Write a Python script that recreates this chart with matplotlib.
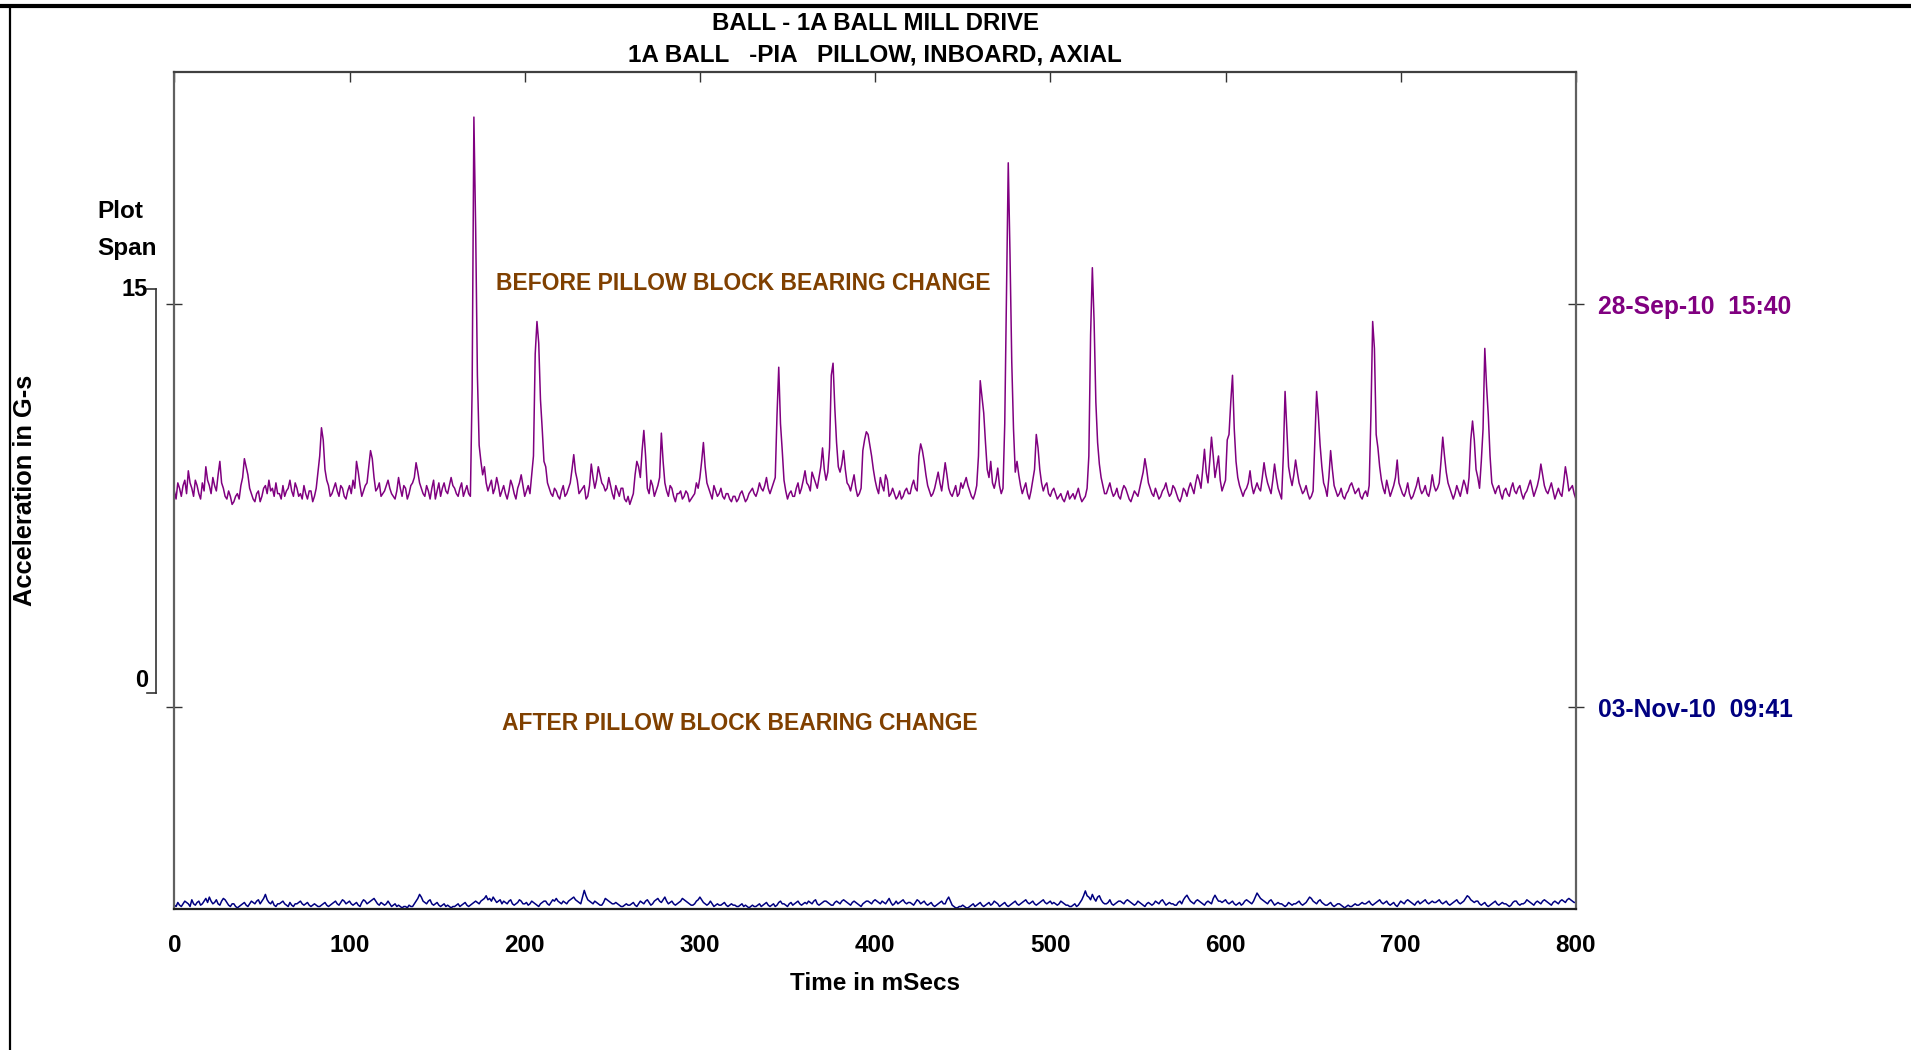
"""Time waveform, 1A ball mill pillow block (inboard, axial): before vs after bearing change."""
import numpy as np
import matplotlib.pyplot as plt
from matplotlib.lines import Line2D
from matplotlib.transforms import blended_transform_factory

plt.rcParams['font.family'] = ['Liberation Sans', 'DejaVu Sans']
plt.rcParams['font.weight'] = 'bold'

TITLE = 'BALL - 1A BALL MILL DRIVE'
SUBTITLE = '1A BALL   -PIA   PILLOW, INBOARD, AXIAL'
DATES = ['03-Nov-10  09:41', '28-Sep-10  15:40']
NOTES = ['AFTER PILLOW BLOCK BEARING CHANGE', 'BEFORE PILLOW BLOCK BEARING CHANGE']
X_TICKS = [0, 100, 200, 300, 400, 500, 600, 700, 800]
SPAN = 15  # G, plot span / waterfall spacing

# sample times, 1 ms apart
t_ms = np.arange(0, 801)

# 28-Sep-10 15:40 (before change), G
before = [
    0.7, 0.4, 1.0, 0.8, 0.5, 0.9, 1.1, 0.6, 1.45, 1.0, 0.8, 0.5, 1.1, 0.9, 0.6, 0.4, 1.0, 0.7, 1.6, 1.1,
    0.9, 0.6, 1.2, 0.9, 0.7, 1.3, 1.8, 1.0, 0.8, 0.5, 0.4, 0.7, 0.5, 0.2, 0.3, 0.5, 0.6, 0.4, 0.9, 1.2,
    1.9, 1.6, 1.3, 0.8, 0.6, 0.4, 0.3, 0.6, 0.7, 0.3, 0.5, 0.8, 0.9, 0.6, 1.1, 0.7, 0.8, 0.5, 1.0, 0.6,
    0.6, 0.4, 0.9, 0.5, 0.7, 0.8, 1.1, 0.7, 0.5, 1.0, 0.8, 0.5, 0.6, 0.4, 0.9, 0.6, 0.4, 0.7, 0.7, 0.3,
    0.5, 0.8, 1.4, 2.0, 3.05, 2.6, 1.5, 1.1, 0.9, 0.5, 0.6, 0.8, 1.0, 0.7, 0.5, 0.9, 0.8, 0.5, 0.4, 0.7,
    0.9, 0.6, 1.1, 0.8, 1.8, 1.4, 0.9, 0.5, 0.7, 0.9, 1.0, 1.6, 2.2, 1.9, 1.2, 0.7, 0.8, 1.0, 0.5, 0.6,
    0.7, 0.9, 1.1, 0.8, 0.6, 0.5, 0.4, 0.7, 1.2, 0.8, 0.5, 0.9, 0.8, 0.4, 0.6, 0.9, 1.0, 1.2, 1.75, 1.4,
    1.0, 0.8, 0.6, 0.5, 0.9, 0.7, 0.4, 0.8, 1.1, 0.4, 0.7, 1.0, 0.5, 0.8, 1.0, 0.7, 0.6, 0.9, 1.2, 0.9,
    0.8, 0.6, 0.5, 0.8, 1.0, 0.5, 0.7, 0.9, 0.6, 0.5, 4.5, 14.6, 10.5, 5.0, 2.4, 1.8, 1.3, 1.6, 1.0, 0.7,
    0.9, 1.1, 0.6, 0.8, 1.2, 0.9, 0.5, 0.7, 0.9, 0.6, 0.4, 0.7, 1.1, 0.9, 0.6, 0.4, 0.8, 1.0, 1.3, 0.9,
    0.5, 0.7, 0.9, 0.6, 1.3, 2.0, 5.8, 7.0, 6.2, 4.1, 3.0, 1.8, 1.6, 1.0, 0.8, 0.6, 0.5, 0.8, 0.7, 0.5,
    0.4, 0.7, 0.9, 0.5, 0.6, 0.8, 1.0, 1.5, 2.05, 1.4, 1.1, 0.6, 0.7, 0.8, 0.9, 0.4, 0.5, 0.9, 1.7, 1.2,
    0.8, 1.1, 1.6, 1.3, 1.0, 0.9, 0.7, 0.8, 1.2, 0.9, 0.6, 0.4, 0.9, 0.7, 0.5, 0.8, 0.8, 0.4, 0.3, 0.5,
    0.2, 0.4, 0.6, 1.3, 1.8, 1.6, 1.2, 2.2, 2.95, 2.0, 0.8, 0.6, 1.1, 0.9, 0.5, 0.7, 0.9, 1.2, 2.85, 1.8,
    1.0, 0.7, 0.5, 0.9, 0.8, 0.5, 0.3, 0.6, 0.6, 0.7, 0.4, 0.5, 0.7, 0.6, 0.3, 0.4, 0.5, 0.6, 1.0, 0.8,
    1.2, 1.8, 2.5, 1.6, 1.0, 0.8, 0.6, 0.4, 0.9, 0.7, 0.5, 0.6, 0.8, 0.5, 0.4, 0.6, 0.6, 0.4, 0.3, 0.5,
    0.5, 0.3, 0.4, 0.6, 0.7, 0.5, 0.3, 0.4, 0.6, 0.7, 0.8, 0.6, 0.5, 0.7, 1.0, 0.8, 0.7, 0.9, 1.2, 0.8,
    0.6, 0.8, 1.0, 1.2, 3.5, 5.3, 3.2, 2.2, 1.1, 0.7, 0.4, 0.6, 0.7, 0.5, 0.5, 0.8, 1.0, 0.6, 0.8, 1.1,
    1.45, 1.0, 0.9, 0.7, 1.4, 1.2, 1.0, 0.8, 1.2, 1.6, 2.3, 1.5, 1.1, 1.4, 2.3, 5.0, 5.45, 3.8, 2.5, 1.6,
    1.4, 1.7, 2.2, 1.5, 1.0, 0.9, 0.7, 1.0, 1.3, 0.8, 0.5, 0.6, 0.8, 2.2, 2.6, 2.9, 2.8, 2.4, 2.0, 1.5,
    1.1, 0.8, 0.6, 1.2, 0.9, 0.7, 1.3, 1.1, 0.5, 0.6, 0.8, 0.6, 0.4, 0.5, 0.7, 0.4, 0.5, 0.7, 0.8, 0.6,
    0.6, 0.9, 1.1, 0.8, 0.7, 2.0, 2.45, 2.2, 1.8, 1.3, 0.9, 0.7, 0.5, 0.6, 0.8, 1.1, 1.4, 1.0, 0.7, 1.2,
    1.75, 1.3, 0.8, 0.6, 0.5, 0.7, 0.9, 0.5, 0.6, 1.0, 0.8, 1.0, 1.2, 0.9, 0.7, 0.5, 0.4, 0.6, 0.9, 2.0,
    4.8, 4.2, 3.6, 2.5, 1.5, 1.2, 1.8, 1.0, 0.8, 1.1, 1.55, 0.9, 0.6, 0.8, 3.2, 8.0, 12.9, 9.5, 5.5, 3.0,
    1.4, 1.8, 1.3, 0.9, 0.6, 0.8, 1.0, 0.6, 0.4, 0.7, 1.1, 1.5, 2.8, 2.3, 1.5, 1.0, 0.7, 0.9, 1.0, 0.6,
    0.5, 0.7, 0.8, 0.6, 0.4, 0.5, 0.6, 0.4, 0.3, 0.5, 0.7, 0.4, 0.5, 0.6, 0.4, 0.6, 0.8, 0.5, 0.3, 0.4,
    0.5, 0.8, 2.0, 6.5, 9.0, 7.0, 4.0, 2.5, 1.7, 1.2, 0.9, 0.6, 0.6, 0.8, 1.0, 0.7, 0.5, 0.6, 0.8, 0.5,
    0.4, 0.7, 0.9, 0.8, 0.6, 0.4, 0.3, 0.5, 0.7, 0.6, 0.5, 0.8, 1.1, 1.4, 1.9, 1.5, 1.0, 0.8, 0.6, 0.5,
    0.8, 0.6, 0.4, 0.5, 0.7, 0.8, 1.0, 0.7, 0.5, 0.6, 0.9, 0.8, 0.6, 0.4, 0.3, 0.5, 0.8, 0.7, 0.5, 0.8,
    1.0, 0.8, 0.6, 1.0, 1.3, 1.1, 0.8, 1.5, 2.25, 1.4, 1.0, 1.8, 2.7, 2.0, 1.2, 1.6, 2.0, 1.1, 0.7, 0.9,
    1.1, 2.6, 2.8, 4.0, 5.0, 3.0, 1.8, 1.2, 0.9, 0.7, 0.5, 0.7, 0.8, 1.0, 1.45, 0.9, 0.6, 0.8, 1.0, 0.8,
    0.7, 1.2, 1.75, 1.3, 1.0, 0.8, 0.6, 1.1, 1.7, 1.2, 0.8, 0.6, 0.4, 2.0, 4.4, 3.0, 1.6, 1.2, 0.9, 1.3,
    1.85, 1.4, 1.0, 0.8, 0.6, 0.7, 0.9, 0.6, 0.4, 0.5, 0.7, 2.5, 4.4, 3.5, 2.4, 1.6, 1.0, 0.8, 0.5, 1.2,
    2.2, 1.5, 0.9, 0.7, 0.5, 0.6, 0.8, 0.5, 0.4, 0.6, 0.7, 0.9, 1.0, 0.8, 0.6, 0.7, 0.8, 0.5, 0.4, 0.6,
    0.7, 0.5, 0.9, 3.5, 7.0, 6.0, 2.8, 2.3, 1.6, 1.1, 0.8, 0.6, 1.1, 0.8, 0.5, 0.7, 0.9, 1.2, 1.85, 1.0,
    0.8, 0.6, 0.5, 0.7, 1.0, 0.6, 0.4, 0.5, 0.7, 0.9, 1.2, 0.8, 0.6, 0.7, 0.9, 0.6, 0.5, 0.8, 1.3, 0.9,
    0.7, 0.8, 1.0, 1.8, 2.7, 2.0, 1.4, 1.0, 0.8, 0.6, 0.4, 0.6, 0.9, 0.7, 0.5, 0.8, 1.1, 0.9, 0.6, 1.2,
    2.6, 3.3, 2.6, 1.5, 1.2, 0.8, 1.8, 3.0, 6.0, 4.6, 3.5, 2.0, 1.0, 0.8, 0.6, 0.8, 0.9, 0.6, 0.4, 0.7,
    0.8, 0.6, 0.5, 0.8, 1.0, 0.7, 0.6, 0.8, 0.9, 0.6, 0.4, 0.6, 0.7, 0.9, 1.1, 0.8, 0.5, 0.7, 0.9, 1.2,
    1.7, 1.3, 0.9, 0.7, 0.6, 0.8, 1.0, 0.7, 0.4, 0.6, 0.8, 0.6, 0.5, 1.0, 1.6, 1.2, 0.7, 0.8, 0.9, 0.6,
    0.4,
]

# 03-Nov-10 09:41 (after change), G
after = [
    0.15, 0.1, 0.25, 0.15, 0.1, 0.2, 0.3, 0.25, 0.2, 0.1, 0.35, 0.2, 0.15, 0.25, 0.3, 0.15, 0.2, 0.3, 0.4, 0.25,
    0.45, 0.3, 0.2, 0.25, 0.35, 0.2, 0.15, 0.3, 0.4, 0.35, 0.25, 0.15, 0.1, 0.2, 0.2, 0.1, 0.05, 0.1, 0.15, 0.2,
    0.25, 0.15, 0.1, 0.2, 0.3, 0.25, 0.2, 0.3, 0.35, 0.2, 0.3, 0.4, 0.55, 0.35, 0.25, 0.2, 0.3, 0.15, 0.1, 0.2,
    0.2, 0.25, 0.3, 0.2, 0.15, 0.1, 0.25, 0.15, 0.1, 0.2, 0.2, 0.25, 0.3, 0.2, 0.15, 0.2, 0.25, 0.15, 0.1, 0.15,
    0.2, 0.15, 0.1, 0.1, 0.15, 0.2, 0.25, 0.15, 0.1, 0.15, 0.2, 0.25, 0.3, 0.2, 0.15, 0.25, 0.35, 0.3, 0.2, 0.25,
    0.3, 0.2, 0.15, 0.2, 0.25, 0.15, 0.1, 0.25, 0.35, 0.3, 0.2, 0.25, 0.3, 0.35, 0.4, 0.3, 0.2, 0.15, 0.25, 0.2,
    0.15, 0.2, 0.3, 0.2, 0.1, 0.15, 0.2, 0.1, 0.15, 0.1, 0.05, 0.1, 0.1, 0.05, 0.15, 0.1, 0.1, 0.2, 0.3, 0.4,
    0.55, 0.45, 0.3, 0.25, 0.2, 0.3, 0.35, 0.2, 0.15, 0.2, 0.25, 0.15, 0.1, 0.15, 0.2, 0.1, 0.15, 0.1, 0.05, 0.1,
    0.1, 0.15, 0.2, 0.1, 0.15, 0.2, 0.25, 0.15, 0.1, 0.15, 0.2, 0.25, 0.3, 0.25, 0.2, 0.3, 0.35, 0.4, 0.5, 0.35,
    0.4, 0.3, 0.45, 0.35, 0.25, 0.3, 0.35, 0.2, 0.3, 0.25, 0.2, 0.3, 0.35, 0.2, 0.15, 0.2, 0.25, 0.35, 0.3, 0.2,
    0.2, 0.25, 0.15, 0.2, 0.3, 0.25, 0.2, 0.15, 0.1, 0.2, 0.25, 0.3, 0.3, 0.2, 0.15, 0.25, 0.35, 0.3, 0.4, 0.3,
    0.25, 0.2, 0.3, 0.25, 0.2, 0.3, 0.35, 0.4, 0.45, 0.35, 0.3, 0.25, 0.2, 0.45, 0.7, 0.5, 0.35, 0.3, 0.25, 0.2,
    0.3, 0.25, 0.2, 0.15, 0.15, 0.25, 0.4, 0.35, 0.3, 0.25, 0.2, 0.2, 0.25, 0.2, 0.15, 0.1, 0.1, 0.15, 0.2, 0.15,
    0.15, 0.2, 0.25, 0.15, 0.1, 0.2, 0.3, 0.25, 0.2, 0.3, 0.35, 0.25, 0.15, 0.2, 0.3, 0.35, 0.4, 0.3, 0.25, 0.35,
    0.45, 0.3, 0.2, 0.25, 0.3, 0.2, 0.15, 0.2, 0.25, 0.3, 0.4, 0.35, 0.3, 0.25, 0.2, 0.15, 0.15, 0.2, 0.3, 0.35,
    0.45, 0.35, 0.25, 0.2, 0.15, 0.2, 0.3, 0.2, 0.1, 0.15, 0.2, 0.15, 0.15, 0.2, 0.25, 0.15, 0.1, 0.15, 0.2, 0.15,
    0.15, 0.1, 0.1, 0.15, 0.2, 0.1, 0.15, 0.1, 0.05, 0.1, 0.15, 0.1, 0.1, 0.15, 0.2, 0.1, 0.15, 0.2, 0.25, 0.15,
    0.1, 0.15, 0.2, 0.1, 0.15, 0.25, 0.3, 0.2, 0.2, 0.15, 0.1, 0.2, 0.25, 0.15, 0.2, 0.25, 0.3, 0.2, 0.15, 0.2,
    0.25, 0.2, 0.3, 0.25, 0.2, 0.3, 0.35, 0.2, 0.15, 0.2, 0.25, 0.3, 0.3, 0.25, 0.2, 0.15, 0.15, 0.25, 0.3, 0.25,
    0.2, 0.3, 0.35, 0.3, 0.25, 0.2, 0.15, 0.25, 0.3, 0.25, 0.2, 0.15, 0.1, 0.2, 0.25, 0.3, 0.3, 0.25, 0.2, 0.3,
    0.35, 0.3, 0.25, 0.2, 0.3, 0.25, 0.2, 0.3, 0.4, 0.25, 0.15, 0.2, 0.3, 0.2, 0.25, 0.3, 0.35, 0.25, 0.2, 0.25,
    0.25, 0.2, 0.15, 0.25, 0.35, 0.3, 0.2, 0.25, 0.3, 0.2, 0.15, 0.2, 0.25, 0.15, 0.1, 0.15, 0.2, 0.25, 0.3, 0.2,
    0.2, 0.35, 0.45, 0.3, 0.15, 0.1, 0.05, 0.05, 0.1, 0.1, 0.15, 0.1, 0.05, 0.05, 0.1, 0.15, 0.2, 0.1, 0.15, 0.2,
    0.25, 0.15, 0.1, 0.15, 0.2, 0.25, 0.15, 0.2, 0.3, 0.25, 0.2, 0.1, 0.15, 0.2, 0.25, 0.15, 0.1, 0.15, 0.2, 0.25,
    0.3, 0.2, 0.15, 0.2, 0.25, 0.3, 0.35, 0.25, 0.2, 0.25, 0.3, 0.2, 0.15, 0.2, 0.25, 0.3, 0.35, 0.25, 0.2, 0.25,
    0.3, 0.2, 0.25, 0.2, 0.15, 0.2, 0.3, 0.25, 0.2, 0.15, 0.15, 0.1, 0.1, 0.15, 0.2, 0.1, 0.15, 0.25, 0.35, 0.5,
    0.68, 0.5, 0.45, 0.35, 0.55, 0.4, 0.3, 0.45, 0.5, 0.35, 0.25, 0.2, 0.2, 0.25, 0.35, 0.2, 0.15, 0.2, 0.25, 0.3,
    0.3, 0.25, 0.2, 0.3, 0.35, 0.3, 0.25, 0.2, 0.15, 0.2, 0.3, 0.25, 0.2, 0.15, 0.1, 0.2, 0.25, 0.2, 0.15, 0.2,
    0.3, 0.25, 0.2, 0.3, 0.35, 0.25, 0.15, 0.2, 0.25, 0.2, 0.2, 0.15, 0.15, 0.25, 0.3, 0.2, 0.35, 0.45, 0.52, 0.4,
    0.3, 0.25, 0.2, 0.3, 0.35, 0.3, 0.25, 0.2, 0.15, 0.25, 0.3, 0.25, 0.2, 0.4, 0.52, 0.4, 0.3, 0.3, 0.25, 0.3,
    0.35, 0.25, 0.2, 0.25, 0.3, 0.2, 0.15, 0.2, 0.25, 0.15, 0.2, 0.3, 0.35, 0.3, 0.25, 0.2, 0.3, 0.45, 0.6, 0.5,
    0.4, 0.35, 0.3, 0.25, 0.2, 0.3, 0.35, 0.25, 0.15, 0.2, 0.25, 0.2, 0.2, 0.15, 0.1, 0.15, 0.25, 0.2, 0.15, 0.2,
    0.2, 0.25, 0.3, 0.2, 0.15, 0.2, 0.25, 0.35, 0.45, 0.4, 0.3, 0.25, 0.2, 0.3, 0.35, 0.25, 0.2, 0.15, 0.15, 0.2,
    0.25, 0.15, 0.1, 0.15, 0.2, 0.2, 0.15, 0.1, 0.05, 0.1, 0.15, 0.1, 0.1, 0.15, 0.2, 0.15, 0.15, 0.2, 0.25, 0.2,
    0.2, 0.25, 0.3, 0.2, 0.15, 0.2, 0.25, 0.3, 0.35, 0.25, 0.2, 0.25, 0.3, 0.2, 0.15, 0.2, 0.25, 0.15, 0.1, 0.2,
    0.3, 0.25, 0.2, 0.3, 0.35, 0.3, 0.25, 0.2, 0.15, 0.25, 0.3, 0.2, 0.25, 0.3, 0.35, 0.25, 0.2, 0.25, 0.3, 0.25,
    0.25, 0.3, 0.35, 0.25, 0.2, 0.25, 0.3, 0.2, 0.15, 0.2, 0.25, 0.3, 0.35, 0.25, 0.2, 0.25, 0.3, 0.4, 0.5, 0.45,
    0.35, 0.3, 0.25, 0.3, 0.3, 0.2, 0.15, 0.2, 0.25, 0.15, 0.1, 0.15, 0.2, 0.25, 0.3, 0.2, 0.15, 0.2, 0.25, 0.2,
    0.2, 0.15, 0.1, 0.15, 0.25, 0.3, 0.3, 0.2, 0.15, 0.2, 0.2, 0.25, 0.35, 0.3, 0.25, 0.2, 0.15, 0.25, 0.3, 0.25,
    0.2, 0.3, 0.35, 0.3, 0.25, 0.2, 0.15, 0.25, 0.3, 0.25, 0.2, 0.3, 0.35, 0.3, 0.25, 0.35, 0.4, 0.35, 0.3, 0.25,
    0.25,
]

PURPLE = '#800080'
NAVY = '#000080'
BROWN = '#804000'
AXC = '#606060'

W, H = 1911, 1050


def fx(px):
    return px / W


def fy(py):
    return 1 - py / H


fig = plt.figure(figsize=(W / 100, H / 100), dpi=100)
x0, x1, y0, y1 = 174.3, 1575.9, 71.9, 909.2
ax = fig.add_axes([fx(x0), fy(y1), fx(x1) - fx(x0), (y1 - y0) / H])

# waterfall: newer trace at the bottom, older one raised by about one span
ax.plot(t_ms, after, color=NAVY, lw=1.1)
ax.plot(t_ms, np.array(before) + SPAN - 0.15, color=PURPLE, lw=1.1)

ax.set_xlim(0, 800)
ax.set_ylim(0, 31.13)
ax.set_xticks(X_TICKS)
ax.tick_params(axis='x', top=True, bottom=False, labeltop=False, labelbottom=True,
               direction='in', length=7, width=1, pad=18, labelsize=17.5, color='#333333')
ax.set_yticks([SPAN / 2, SPAN * 1.5], labels=DATES)
ax.tick_params(axis='y', left=True, right=True, labelleft=False, labelright=True,
               direction='inout', length=12, width=1, pad=10, labelsize=17.7, color='#333333')
for tk, c in zip(ax.yaxis.get_major_ticks(), [NAVY, PURPLE]):
    tk.label2.set_color(c)
for s in ax.spines.values():
    s.set_color(AXC)
    s.set_linewidth(1.6)
ax.spines['top'].set_color('#404040')
ax.spines['bottom'].set_color('#202020')

# plot span bar, drawn on the data scale
tr = blended_transform_factory(fig.transFigure, ax.transData)
bx = fx(156)
lo, hi = 8.05, 8.05 + SPAN
ax.plot([bx, bx], [lo, hi], transform=tr, color='#333333', lw=1.2, clip_on=False)
for yy in (lo, hi):
    ax.plot([bx - fx(9), bx], [yy, yy], transform=tr, color='#333333', lw=1.2, clip_on=False)
ax.text(fx(148), hi, '15', transform=tr, ha='right', va='center', fontsize=17)
ax.text(fx(148), lo + 0.45, '0', transform=tr, ha='right', va='center', fontsize=17)
fig.text(fx(97), fy(212), 'Plot', ha='left', va='center', fontsize=17.5)
fig.text(fx(97), fy(248), 'Span', ha='left', va='center', fontsize=17.5)

fig.text(fx(25), fy(490), 'Acceleration in G-s', rotation=90, ha='center', va='center', fontsize=18.3)
fig.text(fx(875), fy(24), TITLE, ha='center', va='center', fontsize=17.3)
fig.text(fx(875), fy(55), SUBTITLE, ha='center', va='center', fontsize=17.5)
fig.text(fx(875), fy(983), 'Time in mSecs', ha='center', va='center', fontsize=17.5)

fig.text(fx(496), fy(283), NOTES[1], ha='left', va='center', fontsize=16.5, color=BROWN)
fig.text(fx(502), fy(723), NOTES[0], ha='left', va='center', fontsize=16.5, color=BROWN)

# outer frame (top and left edges)
fig.add_artist(Line2D([0, 1], [fy(6), fy(6)], color='black', lw=3, transform=fig.transFigure))
fig.add_artist(Line2D([fx(10), fx(10)], [0, fy(6)], color='black', lw=1.6, transform=fig.transFigure))

fig.savefig('out.png', dpi=100, facecolor='white')
